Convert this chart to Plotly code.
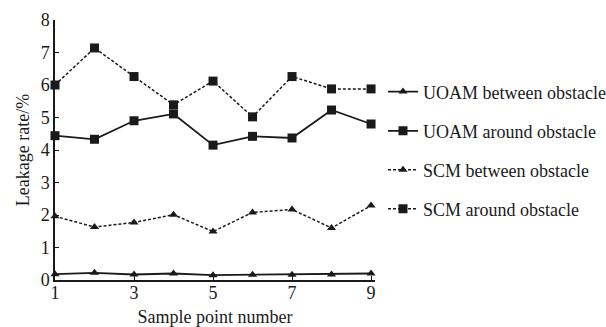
import plotly.graph_objects as go

x = [1, 2, 3, 4, 5, 6, 7, 8, 9]
uoam_between = [0.18, 0.22, 0.17, 0.20, 0.15, 0.16, 0.16, 0.17, 0.20]
uoam_around = [4.44, 4.33, 4.90, 5.11, 4.15, 4.42, 4.37, 5.23, 4.80]
scm_between = [1.96, 1.63, 1.77, 2.01, 1.49, 2.08, 2.17, 1.60, 2.29]
scm_around = [6.00, 7.14, 6.26, 5.39, 6.12, 5.02, 6.26, 5.88, 5.88]

x_ticks = [1, 3, 5, 7, 9]
y_ticks = [0, 1, 2, 3, 4, 5, 6, 7, 8]

FONT = "Liberation Serif"
INK = "#1a1a1a"

fig = go.Figure()
series = [
    ("UOAM between obstacle", uoam_between, "solid", "triangle-up", 8, 1.8, "legend"),
    ("UOAM around obstacle", uoam_around, "solid", "square", 9, 1.8, "legend2"),
    ("SCM between obstacle", scm_between, "3px,2px", "triangle-up", 8, 1.5, "legend3"),
    ("SCM around obstacle", scm_around, "3px,2px", "square", 9, 1.5, "legend4"),
]
for name, ys, dash, sym, ms, lw, lg in series:
    fig.add_trace(go.Scatter(
        x=x, y=ys, name=name, mode="lines+markers",
        line=dict(color=INK, width=lw, dash=dash),
        marker=dict(symbol=sym, size=ms, color=INK),
        legend=lg, cliponaxis=False,
    ))

legend_rows = [0.719, 0.599, 0.480, 0.361]
leg_common = dict(font=dict(family=FONT, size=18, color=INK), bgcolor="rgba(0,0,0,0)",
                  xref="container", yref="container",
                  xanchor="left", yanchor="middle", x=0.632, itemwidth=30)
layout_legends = {}
for i, yy in enumerate(legend_rows):
    key = "legend" if i == 0 else f"legend{i+1}"
    layout_legends[key] = dict(leg_common, y=yy)

fig.update_layout(
    width=606, height=327,
    margin=dict(l=55, r=231, t=20, b=47),
    paper_bgcolor="white", plot_bgcolor="white",
    font=dict(family=FONT, size=18, color=INK),
    showlegend=True,
    **layout_legends,
)
fig.update_xaxes(
    range=[1, 9.1], tickvals=x_ticks, ticktext=[str(v) for v in x_ticks],
    showgrid=False, zeroline=False, showline=True, linecolor=INK, linewidth=2,
    ticks="inside", ticklen=4, tickcolor=INK, ticklabelstandoff=-5,
    title=dict(text="Sample point number", font=dict(family=FONT, size=18), standoff=10),
    tickfont=dict(family=FONT, size=18), automargin=False,
)
fig.update_yaxes(
    range=[0, 8], tickvals=y_ticks,
    showgrid=False, zeroline=False, showline=True, linecolor=INK, linewidth=1.5,
    ticks="inside", ticklen=4, tickcolor=INK,
    title=dict(text="Leakage rate/%", font=dict(family=FONT, size=18), standoff=6),
    tickfont=dict(family=FONT, size=18), automargin=False,
)
fig.write_html("out.html", config={"displayModeBar": False},
               post_script="document.body.style.margin='0';")
